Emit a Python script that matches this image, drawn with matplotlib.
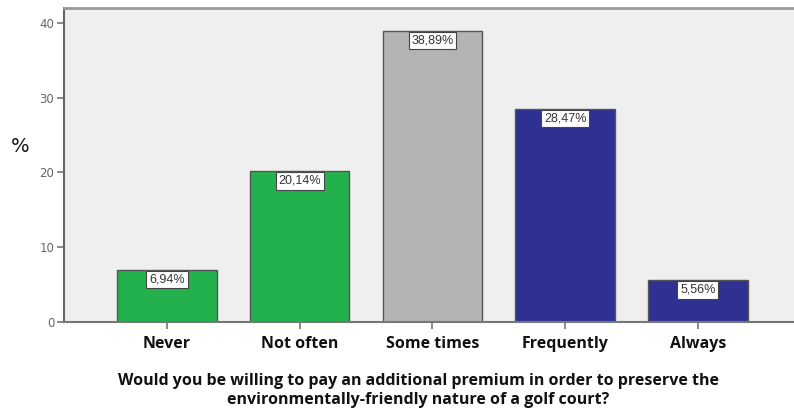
import matplotlib
matplotlib.use("Agg")
import matplotlib.pyplot as plt

categories = ["Never", "Not often", "Some times", "Frequently", "Always"]
values = [6.94, 20.14, 38.89, 28.47, 5.56]
labels = ["6,94%", "20,14%", "38,89%", "28,47%", "5,56%"]
colors = ["#22b14c", "#22b14c", "#b4b4b4", "#2e3192", "#2e3192"]
yticks = [0, 10, 20, 30, 40]

fig = plt.figure(figsize=(7.94, 4.13), dpi=100)
fig.patch.set_facecolor("white")
ax = fig.add_axes([64/794, 1-322/413, 1-64/794, (322-8)/413])
ax.set_facecolor("#efefef")

x = list(range(len(categories)))
ax.bar(x, values, width=0.75, color=colors, edgecolor="#555555", linewidth=1.0, zorder=2)

for xi, v, lab in zip(x, values, labels):
    ax.annotate(lab, (xi, v), xytext=(0, -2.5), textcoords="offset points",
                ha="center", va="top", fontsize=9, color="#333333",
                family="Liberation Sans",
                bbox=dict(boxstyle="square,pad=0.22", fc="white", ec="#444444", lw=0.8),
                zorder=3)

ax.set_xlim(-0.776, 4.725)
ax.set_ylim(0, 42.0)
ax.set_yticks(yticks)
ax.set_xticks(x)
ax.set_xticklabels(categories, fontsize=11.5, fontweight="bold", family="Open Sans", color="#111111")
ax.tick_params(axis="y", labelsize=8.5, colors="#777777", length=5, width=1.2, direction="out", pad=2)
ax.tick_params(axis="x", length=5, width=1.2, color="#777777", direction="out", pad=5)
for lab in ax.get_yticklabels():
    lab.set_color("#666666")

ax.spines["top"].set_color("#999999")
ax.spines["top"].set_linewidth(2)
ax.spines["right"].set_visible(False)
ax.spines["left"].set_color("#666666")
ax.spines["left"].set_linewidth(1.5)
ax.spines["bottom"].set_color("#777777")
ax.spines["bottom"].set_linewidth(1.5)

fig.text(20/794, 1-147/413, "%", fontsize=14, ha="center", va="center", family="DejaVu Sans", color="#111111")
fig.text(418/794, 1-390.5/413,
         "Would you be willing to pay an additional premium in order to preserve the\nenvironmentally-friendly nature of a golf court?",
         fontsize=11.5, fontweight="bold", family="Open Sans", ha="center", va="center",
         linespacing=1.25, color="#111111")

fig.savefig("out.png", dpi=100)
